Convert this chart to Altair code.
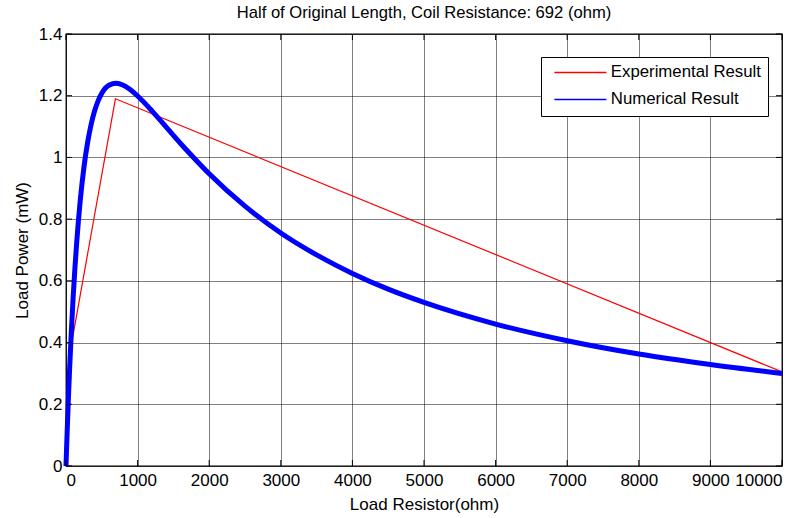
import altair as alt
import pandas as pd

# Numerical result
num_R = [0, 5, 10, 20, 30, 40, 50, 75, 100, 125, 150, 200, 250, 300, 350, 400, 450, 500,
         600, 700, 800, 900, 1000, 1200, 1400, 1600, 1800, 2000, 2500, 3000, 3500, 4000,
         4500, 5000, 6000, 7000, 8000, 9000, 10000]
num_P = [0, 0.035, 0.070, 0.135, 0.198, 0.256, 0.312, 0.438, 0.547, 0.643, 0.726, 0.863,
         0.967, 1.046, 1.106, 1.151, 1.184, 1.208, 1.234, 1.240, 1.234, 1.219, 1.199,
         1.151, 1.098, 1.045, 0.995, 0.947, 0.842, 0.755, 0.684, 0.624, 0.573, 0.530,
         0.460, 0.406, 0.363, 0.329, 0.300]

# Experimental result
exp_R = [0, 80, 690, 10000]
exp_P = [0, 0.40, 1.19, 0.305]

series_names = ["Experimental Result", "Numerical Result"]
series_colors = ["#ff0000", "#0000ff"]

x_ticks = [0, 1000, 2000, 3000, 4000, 5000, 6000, 7000, 8000, 9000, 10000]
y_ticks = [0, 0.2, 0.4, 0.6, 0.8, 1.0, 1.2, 1.4]

title_text = "Half of Original Length, Coil Resistance: 692 (ohm)"
x_title = "Load Resistor(ohm)"
y_title = "Load Power (mW)"

W, H = 716, 432
FONT = "Liberation Sans"

num_df = pd.DataFrame({"R": num_R, "P": num_P, "series": series_names[1]})
exp_df = pd.DataFrame({"R": exp_R, "P": exp_P, "series": series_names[0]})
xt_df = pd.DataFrame({"v": x_ticks})
yt_df = pd.DataFrame({"v": y_ticks})

xscale = alt.Scale(domain=[0, 10000], nice=False, zero=False)
yscale = alt.Scale(domain=[0, 1.4], nice=False, zero=False)

x_enc = alt.X("R:Q", scale=xscale,
              axis=alt.Axis(values=x_ticks, format="d", title=x_title,
                            labelPadding=6, titlePadding=8))
y_enc = alt.Y("P:Q", scale=yscale,
              axis=alt.Axis(values=y_ticks, format="~g", title=y_title,
                            labelPadding=4, titlePadding=7))

color_enc = alt.Color(
    "series:N",
    scale=alt.Scale(domain=series_names, range=series_colors),
    legend=alt.Legend(
        title=None, orient="none", legendX=475, legendY=23,
        fillColor="white", strokeColor="black", padding=7,
        symbolType="M-1,0H25", symbolSize=16, symbolStrokeWidth=1.5,
        labelOffset=46, rowPadding=9, labelFont=FONT, labelFontSize=16.8,
        labelColor="black", labelLimit=300,
    ),
)

exp_line = alt.Chart(exp_df).mark_line(strokeWidth=1.2).encode(
    x=x_enc, y=y_enc, color=color_enc)
num_line = alt.Chart(num_df).mark_line(strokeWidth=5, interpolate="monotone").encode(
    x=x_enc, y=y_enc, color=color_enc)

tick_style = dict(color="black", strokeWidth=1)
xs = alt.X("v:Q", scale=xscale)
ys = alt.Y("v:Q", scale=yscale)
t_bottom = alt.Chart(xt_df).mark_rule(**tick_style).encode(
    x=xs, y=alt.value(H), y2=alt.value(H - 6))
t_top = alt.Chart(xt_df).mark_rule(**tick_style).encode(
    x=xs, y=alt.value(0), y2=alt.value(6))
t_left = alt.Chart(yt_df).mark_rule(**tick_style).encode(
    y=ys, x=alt.value(0), x2=alt.value(6))
t_right = alt.Chart(yt_df).mark_rule(**tick_style).encode(
    y=ys, x=alt.value(W), x2=alt.value(W - 6))

chart = alt.layer(exp_line, num_line, t_bottom, t_top, t_left, t_right).properties(
    width=W, height=H,
    title=alt.TitleParams(title_text, font=FONT, fontSize=16.6, fontWeight="normal",
                          color="black", offset=3, anchor="middle"),
    autosize=alt.AutoSizeParams(type="none"),
    padding={"left": 66, "top": 34, "right": 22, "bottom": 52},
    background="white",
).configure_view(
    stroke="black", strokeWidth=1.3
).configure_axis(
    grid=True, gridColor="black", gridDash=[1, 1], gridOpacity=1, gridWidth=1,
    domain=False, ticks=False,
    labelFont=FONT, labelFontSize=17, labelColor="black",
    titleFont=FONT, titleFontSize=17, titleFontWeight="normal", titleColor="black",
)

chart.save("out.html", embed_options={"renderer": "svg", "actions": False})
